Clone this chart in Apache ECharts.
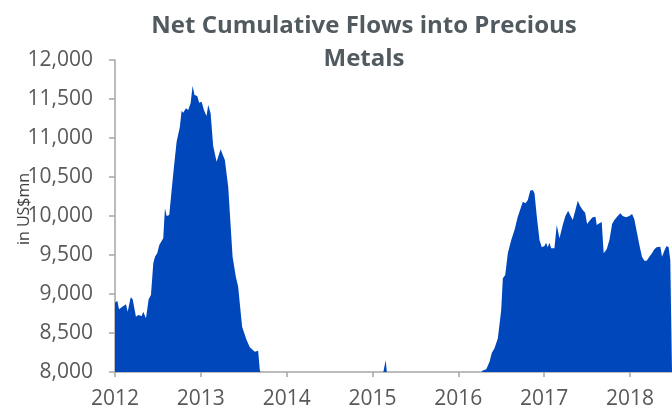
<!DOCTYPE html>
<html>
<head>
<meta charset="utf-8">
<script src="https://cdn.jsdelivr.net/npm/echarts@6/dist/echarts.min.js"></script>
<style>
  html, body { margin: 0; padding: 0; background: #ffffff; }
  #chart { width: 672px; height: 410px; }
</style>
</head>
<body>
<div id="chart"></div>
<script>
// Weekly observations, as decimal years
const dates = [
  2012.000, 2012.027, 2012.047, 2012.097, 2012.128, 2012.148, 2012.183, 2012.206,
  2012.244, 2012.271, 2012.311, 2012.329, 2012.361, 2012.392, 2012.419, 2012.446,
  2012.466, 2012.492, 2012.516, 2012.562, 2012.582, 2012.602, 2012.632, 2012.660,
  2012.687, 2012.718, 2012.756, 2012.776, 2012.795, 2012.826, 2012.853, 2012.881,
  2012.904, 2012.927, 2012.958, 2012.981, 2013.009, 2013.036, 2013.067, 2013.086,
  2013.114, 2013.144, 2013.184, 2013.230, 2013.280, 2013.319, 2013.370, 2013.408,
  2013.435, 2013.481, 2013.533, 2013.571, 2013.629, 2013.649, 2013.668, 2013.687,
  2013.720, 2014.000, 2014.400, 2014.800, 2015.050, 2015.125, 2015.154, 2015.168,
  2015.250, 2015.600, 2016.000, 2016.250,
  2016.279, 2016.326, 2016.364, 2016.391, 2016.422, 2016.461, 2016.480, 2016.500,
  2016.519, 2016.547, 2016.577, 2016.617, 2016.655, 2016.693, 2016.713, 2016.752,
  2016.783, 2016.810, 2016.838, 2016.868, 2016.888, 2016.915, 2016.946, 2016.973,
  2017.004, 2017.024, 2017.042, 2017.062, 2017.082, 2017.120, 2017.147, 2017.179,
  2017.217, 2017.248, 2017.280, 2017.303, 2017.334, 2017.365, 2017.392, 2017.419,
  2017.450, 2017.478, 2017.501, 2017.536, 2017.566, 2017.598, 2017.613, 2017.644,
  2017.671, 2017.694, 2017.729, 2017.761, 2017.792, 2017.819, 2017.857, 2017.889,
  2017.915, 2017.955, 2017.993, 2018.025, 2018.051, 2018.083, 2018.110, 2018.140,
  2018.168, 2018.195, 2018.226, 2018.257, 2018.284, 2018.311, 2018.334, 2018.354,
  2018.374, 2018.401, 2018.427, 2018.451, 2018.470, 2018.490
];

// Net cumulative flows, US$ million
const flows = [
  8889, 8914, 8804, 8846, 8868, 8773, 8958, 8932,
  8709, 8731, 8718, 8773, 8688, 8932, 8987, 9393,
  9478, 9521, 9628, 9714, 10099, 10000, 10013, 10333,
  10632, 10953, 11145, 11350, 11324, 11381, 11359, 11445,
  11667, 11551, 11538, 11453, 11466, 11359, 11282, 11423,
  11317, 10897, 10696, 10855, 10718, 10376, 9478, 9222,
  9094, 8581, 8410, 8317, 8260, 8240, 8273, 8026,
  7900, 7650, 7450, 7600, 7800, 7990, 8150, 7990,
  7750, 7550, 7650, 7950,
  8017, 8034, 8132, 8248, 8304, 8432, 8410, 8795,
  9201, 9244, 9521, 9692, 9820, 9991, 9970, 10183,
  10163, 10205, 10324, 10333, 10291, 9991, 9692, 9598,
  9615, 9658, 9598, 9658, 9585, 9585, 9885, 9714,
  9885, 10000, 10068, 10013, 9949, 10077, 10196, 10128,
  10077, 10043, 9897, 9949, 9983, 9991, 9885, 9906,
  9923, 9521, 9573, 9692, 9897, 9949, 10000, 10034,
  10000, 9983, 10000, 10026, 9958, 9778, 9628, 9478,
  9427, 9427, 9478, 9521, 9573, 9598, 9573, 9607,
  9478, 9555, 9615, 9598, 9436, 9430
];

const yearTicks = [2012, 2013, 2014, 2015, 2016, 2017, 2018];
const titleText = 'Net Cumulative Flows into Precious\nMetals';
const yName = 'in US$mn';

const chart = echarts.init(document.getElementById('chart'));

const labelFont = '"Open Sans", "Liberation Sans", sans-serif';
const axisGrey = '#a6a6a6';

chart.setOption({
  animation: false,
  backgroundColor: '#ffffff',
  title: {
    text: titleText,
    left: 359,
    top: 5,
    textAlign: 'center',
    textStyle: {
      fontFamily: labelFont,
      fontSize: 24,
      fontWeight: 'bold',
      color: '#505a5f',
      lineHeight: 33,
      letterSpacing: 1.3
    }
  },
  grid: { left: 115, right: 0, top: 60, bottom: 38, containLabel: false, outerBoundsMode: 'none' },
  xAxis: {
    type: 'value',
    min: 2012,
    max: 2018.49,
    interval: 1,
    axisLine: { show: true, lineStyle: { color: axisGrey, width: 1.5 } },
    axisTick: { show: true, length: 5, customValues: yearTicks, lineStyle: { color: axisGrey, width: 1.5 } },
    splitLine: { show: false },
    axisLabel: {
      customValues: yearTicks,
      formatter: v => String(v),
      fontFamily: labelFont,
      fontSize: 21,
      color: '#595959',
      margin: 17
    }
  },
  yAxis: {
    type: 'value',
    min: 8000,
    max: 12000,
    interval: 500,
    name: yName,
    nameLocation: 'middle',
    nameRotate: 90,
    nameGap: 83,
    nameMoveOverlap: false,
    nameTextStyle: { fontFamily: labelFont, fontSize: 16, color: '#404040', padding: [0, 0, 0, 14] },
    axisLine: { show: true, lineStyle: { color: axisGrey, width: 1.5 } },
    axisTick: { show: true, length: 6, lineStyle: { color: axisGrey, width: 1.5 } },
    splitLine: { show: false },
    axisLabel: {
      formatter: v => v.toLocaleString('en-US'),
      fontFamily: labelFont,
      fontSize: 21,
      color: '#595959',
      margin: 22
    }
  },
  series: [{
    type: 'line',
    data: dates.map((d, i) => [d, flows[i]]),
    showSymbol: false,
    clip: true,
    lineStyle: { width: 0 },
    areaStyle: { color: '#0047bb', opacity: 1, origin: 'start' }
  }]
});
</script>
</body>
</html>
